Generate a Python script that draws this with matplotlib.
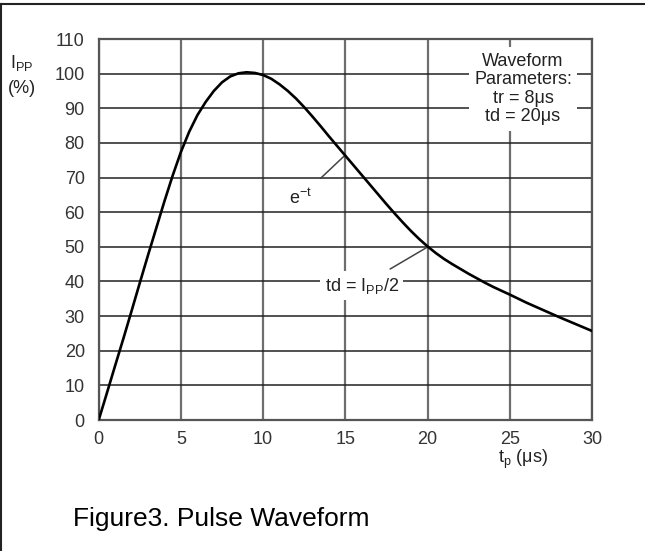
import matplotlib
matplotlib.use("Agg")
import matplotlib.pyplot as plt
from matplotlib.lines import Line2D

plt.rcParams['font.family'] = ['Liberation Sans', 'DejaVu Sans']
plt.rcParams['mathtext.default'] = 'regular'

# curve values
t_us = [0, 0.5, 1.0, 1.5, 2.0, 2.5, 3.0, 3.5, 4.0, 4.5, 5.0, 5.5, 6.0, 6.5,
        7.0, 7.5, 8.0, 8.5, 9.0, 9.5, 10.0, 10.5, 11.0, 11.5, 12.0, 12.5,
        13.0, 13.5, 14.0, 14.5, 15.0, 15.5, 16.0, 16.5, 17.0, 17.5, 18.0,
        18.5, 19.0, 19.5, 20.0, 20.5, 21.0, 21.5, 22.0, 22.5, 23.0, 23.5,
        24.0, 24.5, 25.0, 26.0, 27.0, 28.0, 29.0, 30.0]
ipp_pct = [0, 7.8, 15.7, 23.5, 31.5, 39.6, 47.6, 55.4, 63.2, 70.6, 77.4, 83.2,
           88.0, 91.8, 95.0, 97.5, 99.2, 100.1, 100.4, 100.2, 99.6, 98.5,
           96.9, 95.0, 92.8, 90.3, 87.6, 84.8, 81.9, 79.1, 76.3, 73.5, 70.7,
           67.9, 65.1, 62.3, 59.6, 57.0, 54.5, 52.2, 50.1, 48.2, 46.5, 45.0,
           43.6, 42.2, 40.9, 39.6, 38.4, 37.3, 36.2, 33.9, 31.8, 29.7, 27.7, 25.7]

x_ticks = [0, 5, 10, 15, 20, 25, 30]
y_ticks = [0, 10, 20, 30, 40, 50, 60, 70, 80, 90, 100, 110]

fig = plt.figure(figsize=(6.45, 5.51), dpi=100)
ax = fig.add_axes([0.153, 0.2377, 0.765, 0.6915])

ax.plot(t_us, ipp_pct, color='black', lw=1.9, solid_joinstyle='round', zorder=4)

ax.set_xlim(0, 30)
ax.set_ylim(0, 110)
ax.set_xticks(x_ticks)
ax.set_yticks(y_ticks)
ax.tick_params(length=0, labelsize=13, labelcolor='#333333')
ax.tick_params(axis='x', pad=8)
ax.tick_params(axis='y', pad=10)

ax.set_axisbelow(True)
ax.yaxis.grid(True, color='#222222', lw=1.1)
ax.xaxis.grid(True, color='#6e6e6e', lw=1.6)
for s in ax.spines.values():
    s.set_color('#555555')
    s.set_linewidth(1.6)

# annotations
ax.text(25.8, 95.6, "Waveform\nParameters:\ntr = 8\u03bcs\ntd = 20\u03bcs",
        ha='center', va='center', fontsize=13, color='#222222', linespacing=1.12,
        bbox=dict(boxstyle='square,pad=0.3', fc='white', ec='none'), zorder=3)

ax.annotate("e$^{-t}$", xy=(14.9, 76.1), xytext=(12.25, 64.2),
            ha='center', va='center', fontsize=13, color='#222222',
            arrowprops=dict(arrowstyle='-', color='#444444', lw=1.1,
                            shrinkA=7, shrinkB=0), zorder=3)

ax.annotate("td = I$_{PP}$/2", xy=(20.05, 50.1), xytext=(16.0, 38.8),
            ha='center', va='center', fontsize=13, color='#222222',
            bbox=dict(boxstyle='square,pad=0.25', fc='white', ec='none'),
            arrowprops=dict(arrowstyle='-', color='#444444', lw=1.1,
                            shrinkA=3, shrinkB=0), zorder=3)

ax.text(25.8, -11.3, "t$_{p}$ (\u03bcs)", ha='center', va='center',
        fontsize=13, color='#222222', clip_on=False)

fig.text(0.034, 0.886, "I$_{PP}$", ha='center', va='center', fontsize=13, color='#222222')
fig.text(0.034, 0.840, "(%)", ha='center', va='center', fontsize=13, color='#222222')

fig.text(0.113, 0.045, "Figure3. Pulse Waveform", ha='left', va='baseline',
         fontsize=19, color='black')

# page frame
fig.add_artist(Line2D([0.0016, 0.0016], [0, 1 - 4 / 551], color='#222222', lw=1.5))
fig.add_artist(Line2D([0.0016, 1], [1 - 4 / 551, 1 - 4 / 551], color='#222222', lw=1.5))

fig.savefig("out.png", dpi=100)
